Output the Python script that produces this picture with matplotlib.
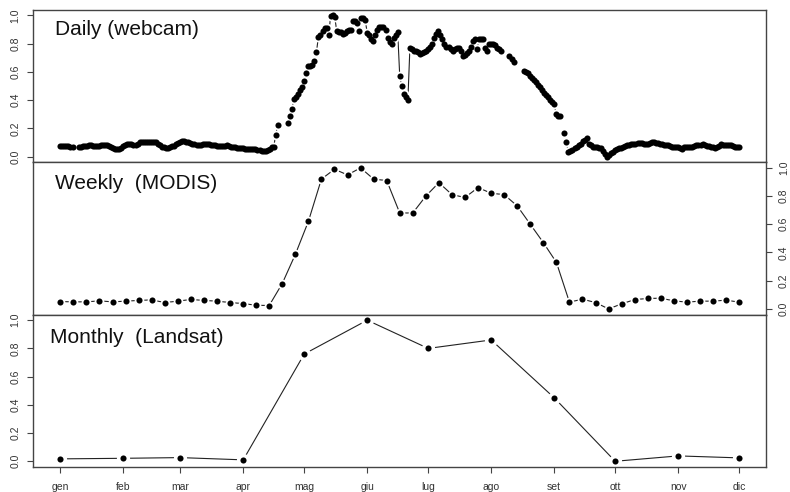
import numpy as np
import matplotlib.pyplot as plt

plt.rcParams['font.family'] = ['Liberation Sans', 'DejaVu Sans']

# mesi (asse x, giorno dell'anno a metà mese)
months = ['gen', 'feb', 'mar', 'apr', 'mag', 'giu', 'lug', 'ago', 'set', 'ott', 'nov', 'dic']
month_doy = [15, 46, 74, 105, 135, 166, 196, 227, 258, 288, 319, 349]

# Monthly (Landsat)
monthly_ndvi = [0.017, 0.021, 0.026, 0.010, 0.76, 1.0, 0.80, 0.86, 0.45, 0.0, 0.038, 0.024]

# Weekly (MODIS), 53 valori tra il giorno 15 e il 349
weekly_ndvi = [0.052, 0.050, 0.050, 0.057, 0.050, 0.055, 0.060, 0.064, 0.045, 0.055,
               0.067, 0.060, 0.055, 0.045, 0.038, 0.026, 0.024, 0.18, 0.386, 0.62,
               0.92, 0.99, 0.95, 1.0, 0.92, 0.91, 0.68, 0.68, 0.80, 0.895,
               0.81, 0.79, 0.86, 0.82, 0.81, 0.73, 0.60, 0.47, 0.33, 0.048,
               0.069, 0.045, 0.0, 0.036, 0.066, 0.074, 0.076, 0.057, 0.048, 0.055,
               0.055, 0.062, 0.048]

# Daily (webcam): tratti continui, con giorno di inizio
daily_a_start = 15
daily_a = [0.075, 0.074, 0.073, 0.072, 0.073, 0.070, 0.068]

daily_b_start = 24
daily_b = [0.067, 0.070, 0.074, 0.076, 0.078, 0.079, 0.079, 0.077, 0.075, 0.074,
           0.078, 0.082, 0.083, 0.081, 0.079, 0.074, 0.068, 0.064, 0.057, 0.050,
           0.055, 0.062, 0.075, 0.083, 0.087, 0.090, 0.088, 0.085, 0.083, 0.090,
           0.100, 0.102, 0.104, 0.105, 0.102, 0.100, 0.102, 0.104, 0.105, 0.090,
           0.080, 0.070, 0.066, 0.062, 0.060, 0.065, 0.072, 0.078, 0.088, 0.095,
           0.105, 0.112, 0.110, 0.104, 0.100, 0.095, 0.090, 0.088, 0.085, 0.084,
           0.083, 0.086, 0.088, 0.090, 0.088, 0.085, 0.083, 0.080, 0.078, 0.076,
           0.074, 0.076, 0.078, 0.079, 0.074, 0.070, 0.067, 0.065, 0.062, 0.060,
           0.060, 0.058, 0.056, 0.055, 0.055, 0.056, 0.055, 0.052, 0.048, 0.044,
           0.042, 0.040, 0.037, 0.045, 0.055, 0.065, 0.070, 0.155, 0.226]

daily_c_start = 127
daily_c = [0.24, 0.29, 0.34, 0.41, 0.42, 0.44, 0.47, 0.495, 0.535, 0.59,
           0.64, 0.645, 0.65, 0.68, 0.74, 0.85, 0.865, 0.89, 0.91, 0.91,
           0.86, 0.995, 1.0, 0.99, 0.89, 0.885, 0.885, 0.87, 0.875, 0.89,
           0.90, 0.90, 0.96, 0.96, 0.95, 0.89, 0.98, 0.98, 0.97, 0.875,
           0.86, 0.835, 0.82, 0.86, 0.90, 0.92, 0.92, 0.92, 0.90, 0.84,
           0.81, 0.80, 0.84, 0.86, 0.88, 0.57, 0.50, 0.44, 0.42, 0.40,
           0.77, 0.76, 0.75, 0.745, 0.74, 0.73, 0.735, 0.74, 0.75, 0.76,
           0.78, 0.80, 0.84, 0.87, 0.89, 0.86, 0.83, 0.80, 0.78, 0.78,
           0.76, 0.75, 0.76, 0.77, 0.77, 0.75, 0.71, 0.72, 0.735, 0.745,
           0.78, 0.82, 0.83, 0.76, 0.83, 0.83, 0.83, 0.77, 0.745, 0.80,
           0.80, 0.80, 0.79, 0.77, 0.76, 0.75]

daily_d_start = 236
daily_d = [0.71, 0.69, 0.67]

daily_e_start = 243
daily_e = [0.61, 0.60, 0.59, 0.57, 0.555, 0.54, 0.525, 0.51, 0.49, 0.47,
           0.45, 0.435, 0.42, 0.40, 0.385, 0.37, 0.30, 0.29, 0.285]

daily_f_start = 263
daily_f = [0.17, 0.10, 0.03, 0.04, 0.048, 0.06, 0.07, 0.079, 0.09, 0.11,
           0.12, 0.13, 0.086, 0.08, 0.071, 0.068, 0.065, 0.063, 0.062, 0.04,
           0.019, 0.0, 0.01, 0.024, 0.035, 0.043, 0.05, 0.058, 0.062, 0.068,
           0.074, 0.079, 0.083, 0.087, 0.09, 0.092, 0.094, 0.095, 0.094, 0.09,
           0.088, 0.086, 0.093, 0.10, 0.10, 0.097, 0.095, 0.09, 0.086, 0.084,
           0.082, 0.079, 0.074, 0.07, 0.066, 0.068, 0.071, 0.063, 0.055, 0.065,
           0.071, 0.068, 0.066, 0.07, 0.075, 0.079, 0.082, 0.085, 0.086, 0.082,
           0.078, 0.074, 0.071, 0.066, 0.062, 0.07, 0.078, 0.086, 0.082, 0.079,
           0.079, 0.079, 0.079, 0.072, 0.066, 0.066, 0.066]

daily_runs = [(daily_a_start, daily_a), (daily_b_start, daily_b), (daily_c_start, daily_c),
              (daily_d_start, daily_d), (daily_e_start, daily_e), (daily_f_start, daily_f)]


# linea con punti "staccati" come type='b' di R
def punti_linee(ax, x, y, alone):
    ax.plot(x, y, color='#222222', lw=0.8, zorder=1)
    ax.plot(x, y, 'o', ms=alone, color='white', mec='none', zorder=2)
    ax.plot(x, y, 'o', ms=4.4, color='black', mec='none', zorder=3)


fig, axes = plt.subplots(3, 1, figsize=(7.9, 4.92), dpi=100, sharex=True)
fig.subplots_adjust(left=0.042, right=0.97, top=0.98, bottom=0.051, hspace=0)
ax1, ax2, ax3 = axes

for start, vals in daily_runs:
    punti_linee(ax1, np.arange(start, start + len(vals)), vals, 7.0)

weekly_doy = np.linspace(month_doy[0], month_doy[-1], len(weekly_ndvi))
punti_linee(ax2, weekly_doy, weekly_ndvi, 7.0)

punti_linee(ax3, month_doy, monthly_ndvi, 9.5)

ext = 0.04 * (month_doy[-1] - month_doy[0])
yt = [0.0, 0.2, 0.4, 0.6, 0.8, 1.0]
for ax in axes:
    ax.set_xlim(month_doy[0] - ext, month_doy[-1] + ext)
    ax.set_ylim(-0.04, 1.04)
    ax.set_yticks(yt)
    ax.set_yticklabels(['%.1f' % v for v in yt])
    for s in ax.spines.values():
        s.set_color('#444444')
        s.set_linewidth(1.0)
    ax.tick_params(direction='out', length=4, width=0.8, color='#444444',
                   labelsize=7.5, labelcolor='#333333', pad=5)
    ax.tick_params(axis='y', labelrotation=90)

ax1.tick_params(axis='x', bottom=False, labelbottom=False)
ax2.tick_params(axis='x', bottom=False, labelbottom=False)
ax2.yaxis.tick_right()

ax3.set_xticks(month_doy)
ax3.set_xticklabels(months)
ax3.tick_params(axis='x', pad=7)

for ax in axes:
    for t in ax.get_yticklabels():
        t.set_va('center')

ax1.text(0.03, 0.87, 'Daily (webcam)', transform=ax1.transAxes, fontsize=15,
         va='center', ha='left', color='#111111')
ax2.text(0.03, 0.863, 'Weekly  (MODIS)', transform=ax2.transAxes, fontsize=15,
         va='center', ha='left', color='#111111')
ax3.text(0.023, 0.85, 'Monthly  (Landsat)', transform=ax3.transAxes, fontsize=15,
         va='center', ha='left', color='#111111')

plt.savefig('out.png', dpi=100)
